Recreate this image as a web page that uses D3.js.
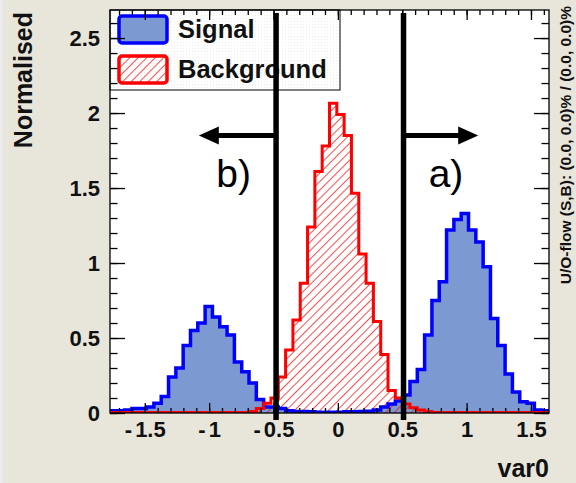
<!DOCTYPE html>
<html>
<head>
<meta charset="utf-8">
<script src="https://cdn.jsdelivr.net/npm/d3@7"></script>
<style>
  body { margin: 0; background: #e8e5da; }
  svg { display: block; }
  text { font-family: "Liberation Sans", Arial, Helvetica, sans-serif; }
</style>
</head>
<body>
<div id="chart"></div>
<script>
// histogram definition
const xMin = -1.77, xMax = 1.64, nBins = 60;
const yMax = 2.687;

// normalised bin contents, left to right
const signal = [
  0.015, 0.015, 0.02, 0.03, 0.03, 0.04, 0.065, 0.11, 0.24, 0.30,
  0.45, 0.55, 0.60, 0.71, 0.64, 0.575, 0.52, 0.34, 0.275, 0.20,
  0.09, 0.04, 0.04, 0.03, 0.015, 0.01, 0.01, 0.008, 0.005, 0.005,
  0.005, 0.005, 0.008, 0.008, 0.01, 0.012, 0.02, 0.04, 0.06, 0.08,
  0.12, 0.21, 0.29, 0.52, 0.75, 0.875, 1.22, 1.29, 1.33, 1.22,
  1.14, 0.975, 0.63, 0.45, 0.26, 0.14, 0.075, 0.065, 0.02, 0.015
];
const background = [
  0.004, 0.004, 0.004, 0.004, 0.004, 0.004, 0.004, 0.004, 0.004, 0.004,
  0.004, 0.004, 0.004, 0.004, 0.004, 0.004, 0.004, 0.004, 0.004, 0.01,
  0.03, 0.065, 0.10, 0.24, 0.42, 0.62, 0.865, 1.24, 1.61, 1.78,
  2.065, 1.99, 1.85, 1.465, 1.06, 0.865, 0.61, 0.39, 0.15, 0.10,
  0.06, 0.035, 0.02, 0.01, 0.004, 0.004, 0.004, 0.004, 0.004, 0.004,
  0.004, 0.004, 0.004, 0.004, 0.004, 0.004, 0.004, 0.004, 0.004, 0.004
];

const xTicks = [-1.5, -1, -0.5, 0, 0.5, 1, 1.5];
const yTicks = [0, 0.5, 1, 1.5, 2, 2.5];
const minorStep = 0.1;

// cut annotations: line position, arrow tip, label position
const cuts = [
  { x: -0.48, tip: -1.08, label: "b)", labelX: -0.81 },
  { x: 0.51, tip: 1.09, label: "a)", labelX: 0.84 }
];
const arrowY = 1.85, labelY = 1.505;

const legendLabels = ["Signal", "Background"];

const W = 576, H = 483;
const frame = { left: 110, top: 10, right: 549, bottom: 413 };

const svg = d3.select("#chart").append("svg")
  .attr("width", W).attr("height", H);

svg.append("rect").attr("width", W).attr("height", H).attr("fill", "#e8e5da");
svg.append("rect").attr("width", 3).attr("height", H).attr("fill", "#ebebee");

const defs = svg.append("defs");
defs.append("pattern")
  .attr("id", "hatch")
  .attr("patternUnits", "userSpaceOnUse")
  .attr("width", 6).attr("height", 6)
  .attr("patternTransform", "rotate(45)")
  .append("line")
  .attr("x1", 0).attr("y1", 0).attr("x2", 0).attr("y2", 6)
  .attr("stroke", "#ff0000").attr("stroke-width", 1.4);

const speckle = defs.append("pattern")
  .attr("id", "speckle")
  .attr("patternUnits", "userSpaceOnUse")
  .attr("width", 3).attr("height", 3);
speckle.append("rect").attr("width", 3).attr("height", 3).attr("fill", "#ffffff");
speckle.append("rect").attr("width", 1).attr("height", 1).attr("fill", "#eeeeee");

defs.append("clipPath").attr("id", "frameClip")
  .append("rect")
  .attr("x", frame.left).attr("y", frame.top)
  .attr("width", frame.right - frame.left)
  .attr("height", frame.bottom - frame.top);

const x = d3.scaleLinear().domain([xMin, xMax]).range([frame.left, frame.right]);
const y = d3.scaleLinear().domain([0, yMax]).range([frame.bottom, frame.top]);

const edges = d3.range(nBins + 1).map(i => xMin + i * (xMax - xMin) / nBins);

function stepPath(vals) {
  let p = `M${x(edges[0])},${y(0)}`;
  vals.forEach((v, i) => { p += `V${y(v)}H${x(edges[i + 1])}`; });
  return p + `V${y(0)}`;
}

// plot area
svg.append("rect")
  .attr("x", frame.left).attr("y", frame.top)
  .attr("width", frame.right - frame.left)
  .attr("height", frame.bottom - frame.top)
  .attr("fill", "#ffffff");

const plot = svg.append("g").attr("clip-path", "url(#frameClip)");

plot.append("path").attr("d", stepPath(signal) + "Z")
  .attr("fill", "#7d99d1").attr("stroke", "none");
plot.append("path").attr("d", stepPath(background) + "Z")
  .attr("fill", "url(#hatch)").attr("stroke", "none");
plot.append("path").attr("d", stepPath(signal))
  .attr("fill", "none").attr("stroke", "#0000ff").attr("stroke-width", 3.5);
plot.append("path").attr("d", stepPath(background))
  .attr("fill", "none").attr("stroke", "#ff0000").attr("stroke-width", 3);

// legend
const legend = svg.append("g");
legend.append("rect")
  .attr("x", frame.left).attr("y", frame.top)
  .attr("width", 230).attr("height", 80)
  .attr("fill", "url(#speckle)").attr("stroke", "#000").attr("stroke-width", 1);

legendLabels.forEach((name, i) => {
  const yy = frame.top + 6 + i * 40;
  legend.append("rect")
    .attr("x", 119).attr("y", yy)
    .attr("width", 48).attr("height", 27).attr("rx", 3)
    .attr("fill", i === 0 ? "#7d99d1" : "url(#hatch)")
    .attr("stroke", i === 0 ? "#0000ff" : "#ff0000")
    .attr("stroke-width", 3.5);
  legend.append("text")
    .attr("x", 178).attr("y", yy + 22)
    .attr("font-size", 25.5).attr("font-weight", "bold")
    .attr("fill", "#111")
    .text(name);
});

// axes
const fmt = d => String(d);
const minorX = d3.range(-1.7, 1.65, minorStep).map(v => +v.toFixed(2));
const minorY = d3.range(0, 2.65, minorStep).map(v => +v.toFixed(2));

function axisStyle(g) {
  g.select(".domain").remove();
  g.selectAll("line").attr("stroke", "#000").attr("stroke-width", 1.3);
  g.selectAll("text")
    .attr("font-size", 22).attr("font-weight", "bold")
    .attr("fill", "#111")
    .attr("font-family", "'Liberation Sans', Arial, sans-serif");
}

// widen the leading minus sign like the original renderer does
function wideMinus(g) {
  g.selectAll("text").each(function() {
    const t = d3.select(this), s = t.text();
    if (s.startsWith("-")) {
      t.text("");
      t.append("tspan").attr("letter-spacing", 3).text("-");
      t.append("tspan").text(s.slice(1));
    }
  });
}

svg.append("g").attr("transform", `translate(0,${frame.bottom})`)
  .call(d3.axisBottom(x).tickValues(minorX).tickSize(-5).tickFormat(""))
  .call(axisStyle);
svg.append("g").attr("transform", `translate(0,${frame.bottom})`)
  .call(d3.axisBottom(x).tickValues(xTicks).tickSize(-10).tickPadding(8).tickFormat(fmt))
  .call(axisStyle)
  .call(wideMinus);
svg.append("g").attr("transform", `translate(0,${frame.top})`)
  .call(d3.axisTop(x).tickValues(minorX).tickSize(-5).tickFormat(""))
  .call(axisStyle);
svg.append("g").attr("transform", `translate(0,${frame.top})`)
  .call(d3.axisTop(x).tickValues(xTicks).tickSize(-10).tickFormat(""))
  .call(axisStyle);

svg.append("g").attr("transform", `translate(${frame.left},0)`)
  .call(d3.axisLeft(y).tickValues(minorY).tickSize(-7.5).tickFormat(""))
  .call(axisStyle);
svg.append("g").attr("transform", `translate(${frame.left},0)`)
  .call(d3.axisLeft(y).tickValues(yTicks).tickSize(-15).tickPadding(10).tickFormat(fmt))
  .call(axisStyle);
svg.append("g").attr("transform", `translate(${frame.right},0)`)
  .call(d3.axisRight(y).tickValues(minorY).tickSize(-7.5).tickFormat(""))
  .call(axisStyle);
svg.append("g").attr("transform", `translate(${frame.right},0)`)
  .call(d3.axisRight(y).tickValues(yTicks).tickSize(-15).tickFormat(""))
  .call(axisStyle);

svg.append("rect")
  .attr("x", frame.left).attr("y", frame.top)
  .attr("width", frame.right - frame.left)
  .attr("height", frame.bottom - frame.top)
  .attr("fill", "none").attr("stroke", "#000").attr("stroke-width", 1.3);

// axis titles
svg.append("text")
  .attr("transform", `translate(32,12) rotate(-90)`)
  .attr("text-anchor", "end")
  .attr("font-size", 25).attr("font-weight", "bold").attr("fill", "#111")
  .text("Normalised");
svg.append("text")
  .attr("x", frame.right).attr("y", 477)
  .attr("text-anchor", "end")
  .attr("font-size", 25).attr("font-weight", "bold").attr("fill", "#111")
  .text("var0");
svg.append("text")
  .attr("transform", `translate(571,6) rotate(-90)`)
  .attr("text-anchor", "end")
  .attr("font-size", 15.5).attr("font-weight", "bold").attr("fill", "#111")
  .text("U/O-flow (S,B): (0.0, 0.0)% / (0.0, 0.0)%");

// cut lines with arrows
cuts.forEach(c => {
  const cx = x(c.x), ay = y(arrowY);
  svg.append("line")
    .attr("x1", cx).attr("x2", cx)
    .attr("y1", frame.top + 3).attr("y2", frame.bottom + 7)
    .attr("stroke", "#000").attr("stroke-width", 5.5);
  const tip = x(c.tip);
  const dir = Math.sign(c.tip - c.x);
  svg.append("line")
    .attr("x1", cx).attr("x2", tip - dir * 14)
    .attr("y1", ay).attr("y2", ay)
    .attr("stroke", "#000").attr("stroke-width", 5);
  svg.append("path")
    .attr("d", `M${tip},${ay}L${tip - dir * 20},${ay - 9}L${tip - dir * 20},${ay + 9}Z`)
    .attr("fill", "#000");
  svg.append("text")
    .attr("x", x(c.labelX)).attr("y", y(labelY))
    .attr("text-anchor", "middle")
    .attr("font-size", 39).attr("fill", "#000")
    .text(c.label);
});
</script>
</body>
</html>
